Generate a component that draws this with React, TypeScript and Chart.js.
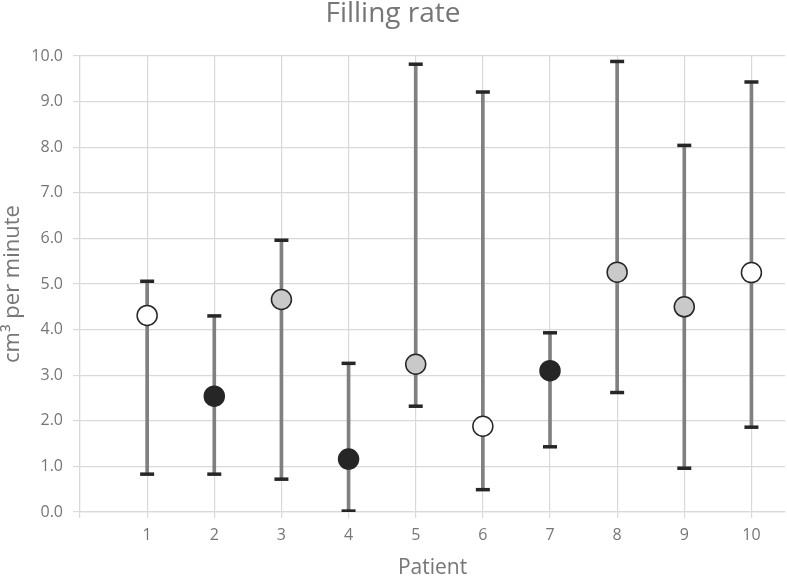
import React, { useEffect, useRef } from "react";
import { Chart, registerables } from "chart.js";

Chart.register(...registerables);

const patients = [1, 2, 3, 4, 5, 6, 7, 8, 9, 10];
const meanValues = [4.31, 2.54, 4.66, 1.16, 3.24, 1.88, 3.1, 5.26, 4.5, 5.25];
const upperValues = [5.06, 4.3, 5.96, 3.26, 9.82, 9.21, 3.93, 9.88, 8.04, 9.43];
const lowerValues = [0.83, 0.83, 0.72, 0.02, 2.32, 0.49, 1.43, 2.62, 0.96, 1.86];
const markerGroups = ["white", "black", "gray", "black", "gray", "white", "black", "gray", "gray", "white"];

const groupColors: Record<string, string> = {
  white: "#ffffff",
  black: "#262626",
  gray: "#c9c9c9",
};

const FONT = "'Open Sans', 'Noto Sans', sans-serif";
const TEXT = "#767676";
const GRID = "#d9d9d9";

export default function App() {
  const ref = useRef<HTMLCanvasElement | null>(null);

  useEffect(() => {
    if (!ref.current) return;
    const chart = new Chart(ref.current, {
      type: "scatter",
      data: {
        datasets: [
          {
            type: "scatter",
            label: "Mean",
            data: patients.map((p, i) => ({ x: p, y: meanValues[i] })),
            pointRadius: 10,
            pointHoverRadius: 10,
            pointBackgroundColor: markerGroups.map((g) => groupColors[g]),
            pointBorderColor: "#262626",
            pointBorderWidth: 1.5,
            order: 0,
          },
          {
            type: "scatter",
            label: "Caps",
            data: [
              ...patients.map((p, i) => ({ x: p, y: upperValues[i] })),
              ...patients.map((p, i) => ({ x: p, y: lowerValues[i] })),
            ],
            pointStyle: "line",
            pointRadius: 7,
            pointHoverRadius: 7,
            pointBorderColor: "#262626",
            pointBorderWidth: 3.5,
            order: 1,
          },
          {
            type: "bar",
            label: "Range",
            data: patients.map((p, i) => ({ x: p, y: [lowerValues[i], upperValues[i]] })) as any,
            backgroundColor: "#808080",
            borderWidth: 0,
            barThickness: 3,
            order: 2,
          } as any,
        ],
      },
      options: {
        animation: false,
        responsive: true,
        maintainAspectRatio: false,
        layout: { autoPadding: false, padding: { left: 1, right: 2, top: 0, bottom: 0 } },
        plugins: {
          legend: { display: false },
          tooltip: { enabled: false },
          title: {
            display: true,
            text: "Filling rate",
            color: TEXT,
            font: { family: FONT, size: 28, weight: "normal", lineHeight: 1.0 },
            padding: { top: 0, bottom: 28 },
          },
        },
        scales: {
          x: {
            type: "linear",
            min: 0,
            max: 10.5,
            offset: false,
            grid: { color: GRID, lineWidth: 1.2, tickLength: 6, drawTicks: true, offset: false },
            border: { color: GRID, width: 1.2 },
            afterBuildTicks: (scale: any) => {
              scale.ticks = scale.ticks.filter((t: any) => t.value <= 10);
            },
            afterFit: (scale: any) => {
              scale.height = 64;
              scale.paddingLeft = 0;
              scale.paddingRight = 0;
            },
            ticks: {
              stepSize: 1,
              includeBounds: false,
              autoSkip: false,
              color: TEXT,
              font: { family: FONT, size: 16 },
              padding: 8,
              maxRotation: 0,
              callback: (v: any) => (Number(v) === 0 ? "" : String(v)),
            },
            title: {
              display: true,
              text: "Patient",
              color: TEXT,
              font: { family: FONT, size: 21, lineHeight: 0.75 },
              padding: { top: 0, bottom: 0 },
            },
          },
          y: {
            type: "linear",
            min: 0,
            max: 10,
            grid: { color: GRID, lineWidth: 1.2, tickLength: 7 },
            border: { color: GRID, width: 1.2 },
            afterFit: (scale: any) => {
              scale.width = 79;
            },
            ticks: {
              stepSize: 1,
              color: TEXT,
              font: { family: FONT, size: 16 },
              padding: 10,
              callback: (v: any) => Number(v).toFixed(1),
            },
            title: {
              display: true,
              text: "cm³ per minute",
              color: TEXT,
              font: { family: FONT, size: 22, lineHeight: 1.1 },
              padding: { top: 0, bottom: 0 },
            },
          },
        },
      },
    });
    return () => chart.destroy();
  }, []);

  return (
    <div style={{ position: "fixed", left: 0, top: 0, width: 787, height: 576, background: "#ffffff" }}>
      <canvas ref={ref} />
    </div>
  );
}
